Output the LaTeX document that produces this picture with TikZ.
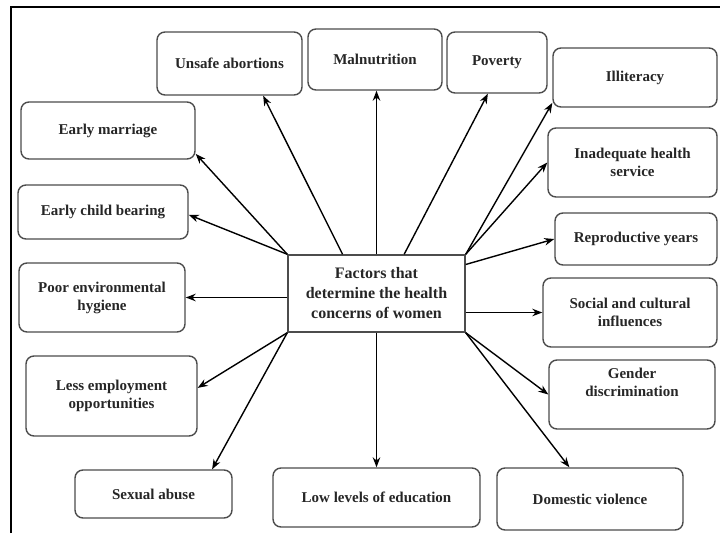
\documentclass[tikz,border=0pt]{standalone}
\usepackage{fontspec}
\setmainfont{Liberation Serif}
\usetikzlibrary{arrows.meta,calc}

\tikzset{
   factor/.style={draw=black!70, line width=1.4pt, rounded corners=8pt, align=center,
      inner sep=2pt, font=\fontsize{15}{18}\selectfont\bfseries, text=black!85},
   hub/.style={draw=black!70, line width=1.4pt, align=center,
      font=\fontsize{16}{20}\selectfont\bfseries, text=black!85},
   link/.style={-{Stealth[length=10pt,width=7.5pt]}, line width=1.4pt}
}

\begin{document}
\begin{tikzpicture}[x=1pt,y=-1pt]
   \useasboundingbox (0,0) rectangle (720,533);
   \draw[line width=2pt] (11,533) -- (11,7) -- (720,7);

   \node[hub, minimum width=177pt, minimum height=77pt] (c) at (376.5,293.5) {Factors that\\determine the health\\concerns of women};

   % top row
   \node[factor, minimum width=145pt, minimum height=63pt] (abort) at (229.5,63.5) {Unsafe abortions};
   \node[factor, minimum width=134pt, minimum height=61pt] (malnu) at (375,59.5) {Malnutrition};
   \node[factor, minimum width=100pt, minimum height=61pt] (pover) at (497,62.5) {Poverty};

   % left column
   \node[factor, minimum width=174pt, minimum height=57pt] (marri) at (108,130.5) {Early marriage};
   \node[factor, minimum width=170pt, minimum height=54pt] (child) at (103,212) {Early child bearing};
   \node[factor, minimum width=166pt, minimum height=69pt] (hygie) at (102,297.5) {Poor environmental\\hygiene};
   \node[factor, minimum width=171pt, minimum height=80pt] (emplo) at (111.5,396) {Less employment\\opportunities};
   \node[factor, minimum width=157pt, minimum height=48pt] (abuse) at (153.5,494) {Sexual abuse};

   % right column
   \node[factor, minimum width=164pt, minimum height=59pt] (illit) at (635,77.5) {Illiteracy};
   \node[factor, minimum width=169pt, minimum height=69pt] (servi) at (632.5,162.5) {Inadequate health\\service};
   \node[factor, minimum width=162pt, minimum height=52pt] (repro) at (636,239) {Reproductive years};
   \node[factor, minimum width=174pt, minimum height=69pt] (socia) at (630,312.5) {Social and cultural\\influences};
   \node[factor, minimum width=166pt, minimum height=69pt] (gende) at (632,394.5) {Gender\\discrimination\\[6pt]};

   % bottom row
   \node[factor, minimum width=207pt, minimum height=59pt] (educa) at (376.5,497.5) {Low levels of education};
   \node[factor, minimum width=186pt, minimum height=62pt] (viole) at (590,499) {Domestic violence};

   \draw[link] ($(c.north west)!0.31!(c.north east)$) -- ($(abort.south west)!0.73!(abort.south east)$);
   \draw[link] (c.north) -- (c.north |- malnu.south);
   \draw[link] ($(c.north west)!0.655!(c.north east)$) -- ($(pover.south west)!0.41!(pover.south east)$);
   \draw[link] (c.north west) -- ($(marri.north east)!0.9!(marri.south east)$);
   \draw[link] (c.north west) -- ($(child.north east)!0.55!(child.south east)$);
   \draw[link] (c.west |- hygie.east) -- (hygie.east);
   \draw[link] (c.south west) -- ($(emplo.north east)!0.4!(emplo.south east)$);
   \draw[link] (c.south west) -- ($(abuse.north west)!0.87!(abuse.north east)$);
   \draw[link] (c.north east) -- ($(illit.north west)!0.92!(illit.south west)$);
   \draw[link] (c.north east) -- (servi.west);
   \draw[link] ($(c.north east)!0.13!(c.south east)$) -- (repro.west);
   \draw[link] (c.east |- socia.west) -- (socia.west);
   \draw[link] (c.south east) -- (gende.west);
   \draw[link] (c.south east) -- ($(viole.north west)!0.39!(viole.north east)$);
   \draw[link] (c.south) -- (c.south |- educa.north);
\end{tikzpicture}
\end{document}
